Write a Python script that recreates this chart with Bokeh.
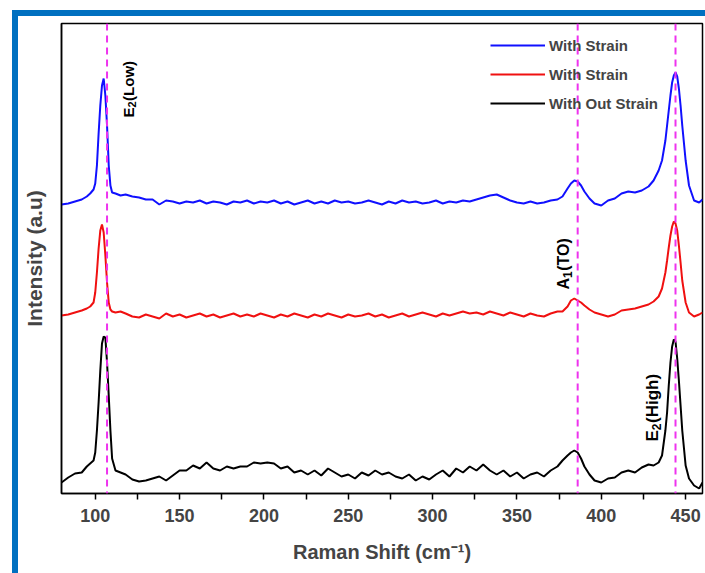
from bokeh.plotting import figure
from bokeh.models import Span, Label, Legend, LegendItem, FixedTicker, Range1d, Div, Spacer
from bokeh.layouts import column, row
from bokeh.embed import file_html
from bokeh.resources import INLINE

# Raman shift (cm^-1)
raman_shift = [80, 84, 88, 92, 95, 97, 99, 100, 101, 102, 103, 104, 105, 106, 107, 108, 109, 110, 112, 115,
               118, 122, 126, 130, 134, 138, 142, 146, 150, 154,
               158, 162, 166, 170, 174, 178, 182, 186, 190, 194,
               198, 202, 206, 210, 214, 218, 222, 226, 230, 234,
               238, 242, 246, 250, 254, 258, 262, 266, 270, 274,
               278, 282, 286, 290, 294, 298, 302, 306, 310, 314,
               318, 322, 326, 330, 334, 338, 342, 346, 350, 354,
               358, 362, 366, 370, 374,
               377, 380, 382, 384, 386, 388, 390, 393, 396,
               400, 404, 408, 412, 416, 420, 424, 428,
               431, 434, 436, 438, 439, 440, 441, 442, 443, 444, 445, 446, 447, 448, 450, 452, 455, 458, 460]

# Intensity (a.u), stacked traces
strain_blue = [289, 290, 292, 294, 297, 300, 304, 310, 328, 360, 388, 408, 415, 398, 368, 328, 308, 301, 300, 298,
               299, 297, 296, 294, 294, 289, 293, 292, 290, 292,
               291, 293, 290, 292, 291, 289, 292, 291, 293, 290,
               292, 291, 293, 290, 292, 289, 291, 293, 290, 292,
               290, 293, 291, 292, 290, 291, 293, 291, 289, 292,
               290, 293, 291, 292, 290, 291, 293, 290, 292, 291,
               293, 292, 294, 296, 298, 299, 296, 293, 291, 290,
               292, 290, 291, 293, 294,
               297, 305, 310, 313, 312, 308, 302, 295, 290,
               288, 293, 295, 300, 302, 301, 303, 307,
               313, 323, 333, 353, 368, 383, 398, 411, 418, 421, 417, 405, 388, 368, 333, 308, 293, 291, 294]

strain_red = [178, 179, 181, 183, 185, 187, 191, 201, 221, 245, 263, 269, 261, 238, 211, 191, 184, 182, 181, 182,
              180, 177, 176, 179, 177, 175, 180, 177, 179, 176,
              178, 180, 177, 179, 176, 178, 180, 177, 179, 177,
              180, 178, 176, 179, 177, 180, 178, 176, 179, 177,
              180, 178, 176, 179, 177, 178, 180, 177, 179, 176,
              178, 180, 177, 179, 181, 179, 177, 180, 178, 180,
              182, 180, 181, 179, 182, 180, 178, 181, 179, 177,
              180, 178, 177, 180, 182,
              182, 187, 193, 195, 193, 191, 188, 184, 181,
              179, 177, 179, 183, 184, 185, 187, 189,
              192, 197, 205, 221, 233, 246, 258, 267, 272, 270, 263, 248, 231, 213, 191, 181, 177, 179, 181]

no_strain = [11, 16, 20, 21, 27, 30, 33, 41, 63, 91, 123, 150, 157, 156, 131, 98, 63, 35, 23, 21,
             19, 14, 12, 13, 15, 17, 13, 18, 23, 23,
             28, 25, 31, 25, 23, 27, 25, 27, 27, 31,
             30, 31, 30, 25, 27, 21, 23, 19, 23, 18,
             25, 21, 17, 19, 15, 21, 18, 23, 19, 21,
             17, 15, 19, 13, 17, 14, 19, 23, 17, 25,
             21, 27, 23, 29, 23, 19, 23, 17, 21, 15,
             19, 21, 17, 23, 27,
             33, 38, 41, 43, 41, 35, 27, 19, 13,
             11, 15, 16, 21, 23, 21, 26, 29,
             28, 31, 38, 63, 81, 108, 131, 147, 154, 152, 135, 113, 88, 63, 28, 15, 8, 5, 11]

# phonon modes: dashed marker position and rotated label (symbol, subscript, suffix)
mode_positions = [107, 386, 444]
mode_symbols = ["E", "A", "E"]
mode_subscripts = ["2", "1", "2"]
mode_suffixes = ["(Low)", "(TO)", "(High)"]
mode_label_x = [119.8, 377.7, 430.5]
mode_label_y = [376, 204, 52]
mode_label_size = [15, 16, 17]

x_major_ticks = [100, 150, 200, 250, 300, 350, 400, 450]
x_minor_ticks = [125, 175, 225, 275, 325, 375, 425]

legend_labels = ["With Strain", "With Strain", "With Out Strain"]

FONT = "Liberation Sans"
BAND = "#0070C0"
# advance widths (em) of Liberation Sans Bold, for chaining rotated label pieces
ADV = {"E": .667, "A": .722, "2": .556, "1": .556}

p = figure(width=687, height=557, x_range=Range1d(80, 460), y_range=Range1d(0, 470),
           output_backend="svg", toolbar_location=None,
           min_border_left=43, min_border_right=3, min_border_top=7, min_border_bottom=80)

p.background_fill_color = "white"
p.border_fill_color = "white"
p.outline_line_color = "black"
p.outline_line_width = 1.5
p.outline_line_alpha = 1.0
p.xgrid.visible = False
p.ygrid.visible = False

rb = p.line(raman_shift, strain_blue, line_color="#1010ff", line_width=2)
rr = p.line(raman_shift, strain_red, line_color="#f01010", line_width=2)
rk = p.line(raman_shift, no_strain, line_color="black", line_width=2)

for loc in mode_positions:
    p.add_layout(Span(location=loc, dimension="height", line_color="#ee33ee",
                      line_dash="7 5", line_width=2))

# x data units per screen pixel (frame is 641 px wide for 380 units); y is 1 unit per pixel
px_x = 380 / 641.0
for sym, sub, suf, xx, yy, fs in zip(mode_symbols, mode_subscripts, mode_suffixes,
                                     mode_label_x, mode_label_y, mode_label_size):
    sub_fs = round(fs * 0.72)
    common = dict(angle=90, angle_units="deg", text_align="left", text_baseline="alphabetic",
                  text_font=FONT, text_font_style="bold", text_color="black")
    p.add_layout(Label(x=xx, y=yy, text=sym, text_font_size=f"{fs}px", **common))
    y2 = yy + ADV[sym] * fs
    p.add_layout(Label(x=xx + 0.22 * fs * px_x, y=y2, text=sub, text_font_size=f"{sub_fs}px", **common))
    y3 = y2 + ADV[sub] * sub_fs + 0.5
    p.add_layout(Label(x=xx, y=y3, text=suf, text_font_size=f"{fs}px", **common))

legend = Legend(items=[LegendItem(label=legend_labels[0], renderers=[rb]),
                       LegendItem(label=legend_labels[1], renderers=[rr]),
                       LegendItem(label=legend_labels[2], renderers=[rk])],
                location=(429, 380), orientation="vertical",
                border_line_color=None, background_fill_alpha=0.0,
                label_text_font=FONT, label_text_font_style="bold", label_text_font_size="15px",
                glyph_width=55, glyph_height=20, label_height=20, spacing=9,
                padding=0, margin=0, label_standoff=4)
p.add_layout(legend)

xa = p.xaxis[0]
xa.ticker = FixedTicker(ticks=x_major_ticks, minor_ticks=x_minor_ticks)
xa.major_tick_in = 0
xa.major_tick_out = 6
xa.minor_tick_in = 0
xa.minor_tick_out = 6
xa.major_tick_line_width = 1.5
xa.minor_tick_line_width = 1.5
xa.axis_line_width = 1.5
xa.major_label_text_font = FONT
xa.major_label_text_font_style = "bold"
xa.major_label_text_font_size = "18px"
xa.major_label_standoff = 9
xa.axis_label = "Raman Shift (cm\u207b\u00b9)"
xa.axis_label_text_font = FONT
xa.axis_label_text_font_style = "bold"
xa.axis_label_text_font_size = "20px"
xa.axis_label_standoff = 16

ya = p.yaxis[0]
ya.ticker = FixedTicker(ticks=[])
ya.major_tick_out = 0
ya.major_tick_in = 0
ya.minor_tick_out = 0
ya.axis_line_width = 1.5
ya.major_label_text_font_size = "0px"
ya.axis_label = "Intensity (a.u)"
ya.axis_label_text_font = FONT
ya.axis_label_text_font_style = "bold"
ya.axis_label_text_font_size = "21px"
ya.axis_label_standoff = 16

# blue page bands (top and left edges of the figure panel)
top_band = Div(text="", width=693, height=6, margin=0, styles={"background-color": BAND})
left_band = Div(text="", width=6, height=557, margin=0, styles={"background-color": BAND})

page = column(Spacer(width=705, height=10),
              row(Spacer(width=12, height=563),
                  column(top_band, row(left_band, p, spacing=0), spacing=0),
                  spacing=0),
              spacing=0)

open("out.html", "w").write(file_html(page, INLINE))
